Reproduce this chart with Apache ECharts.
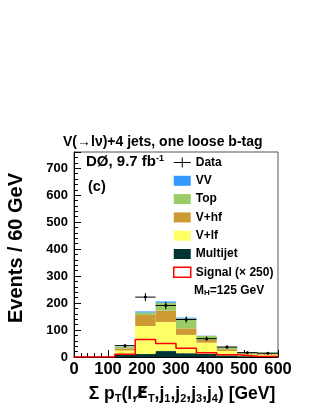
<!DOCTYPE html>
<html><head><meta charset="utf-8">
<script src="https://cdn.jsdelivr.net/npm/echarts@6/dist/echarts.min.js"></script>
<style>html,body{margin:0;padding:0;background:#fff}#c{width:316px;height:409px}</style>
</head><body><div id="c"></div>
<script>
const binEdges = [0, 60, 120, 180, 240, 300, 360, 420, 480, 540, 600];
const multijet = [0, 0, 8, 11, 22, 14, 12, 6, 3, 3];
const vlf      = [0, 0, 16, 104, 108, 68, 41, 16, 7, 6];
const vhf      = [0, 0, 8, 41, 42, 24, 10, 7, 3, 3];
const topq     = [0, 0, 5, 9, 29, 37, 15, 7, 4, 4];
const vv       = [0, 0, 1, 4, 5, 3, 1, 0.5, 0.3, 0.3];
const dataCounts = [0, 0, 42, 222, 191, 139, 68, 37, 16, 14];
const dataErrors = [0, 0, 6.5, 15, 14, 12, 8, 6, 4, 3.7];
const signal   = [0, 0, 10, 65, 50, 32, 16, 8, 3, 2];
const xTickLabels = [0, 100, 200, 300, 400, 500, 600];
const yTickLabels = [0, 100, 200, 300, 400, 500, 600, 700];

const FONT = "'Liberation Sans', Arial, Helvetica, sans-serif";

const layers = [
  { name: 'Multijet', vals: multijet, color: '#003333' },
  { name: 'V+lf', vals: vlf, color: '#ffff66' },
  { name: 'V+hf', vals: vhf, color: '#cc9933' },
  { name: 'Top', vals: topq, color: '#99cc66' },
  { name: 'VV', vals: vv, color: '#3399ff' }
];
let base = binEdges.slice(0, -1).map(() => 0);
layers.forEach(l => {
  l.items = l.vals.map((v, i) => [binEdges[i], binEdges[i + 1], base[i], base[i] + v]);
  base = base.map((b, i) => b + l.vals[i]);
});

const stackSeries = layers.map(l => ({
  name: l.name,
  type: 'custom',
  itemStyle: { color: l.color },
  encode: { x: [0, 1], y: [2, 3] },
  data: l.items,
  renderItem: (params, api) => {
    const a = api.coord([api.value(0), api.value(3)]);
    const b = api.coord([api.value(1), api.value(2)]);
    return { type: 'rect', shape: { x: a[0], y: a[1], width: b[0] - a[0], height: b[1] - a[1] },
             style: { fill: l.color } };
  }
}));

const sigPts = signal.map((s, i) => [binEdges[i], s]);
sigPts.push([binEdges[binEdges.length - 1], signal[signal.length - 1]]);

const dataItems = [];
dataCounts.forEach((n, i) => {
  if (n > 0) dataItems.push([(binEdges[i] + binEdges[i + 1]) / 2, n, (binEdges[i + 1] - binEdges[i]) / 2, dataErrors[i]]);
});

const option = {
  animation: false,
  backgroundColor: '#fff',
  title: {
    text: 'V(→lν)+4 jets, one loose b-tag',
    left: 63, top: 135, padding: 0,
    textStyle: { fontFamily: FONT, fontSize: 14, fontWeight: 'bold', color: '#000' }
  },
  grid: { left: 74, right: 38, top: 152, bottom: 52, outerBoundsMode: 'none', show: true, borderColor: '#555', borderWidth: 1, backgroundColor: 'transparent' },
  legend: {
    orient: 'vertical', left: 173, top: 156.5, padding: 0, itemWidth: 17, itemHeight: 10, itemGap: 6.3,
    selectedMode: false,
    textStyle: { fontFamily: FONT, fontSize: 12, fontWeight: 'bold', color: '#000', lineHeight: 12 },
    data: [
      { name: 'Data', icon: 'path://M0,5L17,5M8.5,0L8.5,10', itemStyle: { color: 'transparent', borderColor: '#000', borderWidth: 1 } },
      { name: 'VV', icon: 'rect' },
      { name: 'Top', icon: 'rect' },
      { name: 'V+hf', icon: 'rect' },
      { name: 'V+lf', icon: 'rect' },
      { name: 'Multijet', icon: 'rect' },
      { name: 'Signal (× 250)', icon: 'rect', itemStyle: { color: '#fff', borderColor: '#ff0000', borderWidth: 1.5 } }
    ]
  },
  graphic: [
    { type: 'text', left: 86, top: 154, style: { text: 'DØ, 9.7 fb{sup|-1}', fontFamily: FONT, fontSize: 15, fontWeight: 'bold', fill: '#000',
      rich: { sup: { fontFamily: FONT, fontSize: 9, fontWeight: 'bold', verticalAlign: 'top', lineHeight: 10, fill: '#000' } } } },
    { type: 'text', left: 88, top: 179, style: { text: '(c)', fontFamily: FONT, fontSize: 14.5, fontWeight: 'bold', fill: '#000' } },
    { type: 'text', left: 194, top: 285, style: { text: 'M{sub|H}=125 GeV', fontFamily: FONT, fontSize: 12, fontWeight: 'bold', fill: '#000',
      rich: { sub: { fontFamily: FONT, fontSize: 8, fontWeight: 'bold', verticalAlign: 'bottom', lineHeight: 8, fill: '#000' } } } }
  ],
  xAxis: {
    type: 'value', min: 0, max: 600, interval: 100,
    name: 'Σ p{sub|T}(l,{es|E̸}{sub|T},j{sub|1},j{sub|2},j{sub|3},j{sub|4}) [GeV]',
    nameLocation: 'middle', nameGap: 24,
    nameTextStyle: { fontFamily: FONT, fontSize: 17.5, fontWeight: 'bold', color: '#000', lineHeight: 22, padding: [0, 0, 0, 12],
      rich: {
        sub: { fontFamily: FONT, fontSize: 11, fontWeight: 'bold', verticalAlign: 'bottom', lineHeight: 13, color: '#000' },
        es: { fontFamily: "'DejaVu Sans'", fontSize: 16, fontWeight: 'bold', lineHeight: 22, color: '#000' }
      } },
    axisLine: { lineStyle: { color: '#000', width: 1 } },
    axisTick: { inside: true, length: 7, lineStyle: { color: '#000' } },
    minorTick: { show: true, splitNumber: 5, length: 4, lineStyle: { color: '#000' } },
    splitLine: { show: false },
    axisLabel: { margin: 4, fontFamily: FONT, fontSize: 16.5, fontWeight: 'bold', color: '#000',
      formatter: v => xTickLabels.includes(v) ? String(v) : '' }
  },
  yAxis: {
    type: 'value', min: 0, max: 760, interval: 100,
    name: 'Events / 60 GeV',
    nameLocation: 'middle', nameGap: 48,
    nameTextStyle: { fontFamily: FONT, fontSize: 20, fontWeight: 'bold', color: '#000', padding: [0, 0, 0, 13] },
    axisLine: { show: true, lineStyle: { color: '#000', width: 1 } },
    axisTick: { inside: true, length: 7, lineStyle: { color: '#000' } },
    minorTick: { show: true, splitNumber: 5, length: 4, lineStyle: { color: '#000' } },
    splitLine: { show: false },
    axisLabel: { margin: 6, fontFamily: FONT, fontSize: 13, fontWeight: 'bold', color: '#000', showMaxLabel: false,
      formatter: v => yTickLabels.includes(v) ? String(v) : '' }
  },
  series: [
    ...stackSeries,
    {
      name: 'Signal (× 250)', type: 'line', step: 'end', data: sigPts, symbol: 'none',
      lineStyle: { color: '#ff0000', width: 1.5 }, itemStyle: { color: '#ff0000' }
    },
    {
      name: 'Data', type: 'custom', itemStyle: { color: '#000' },
      encode: { x: 0, y: 1 }, data: dataItems,
      renderItem: (params, api) => {
        const x = api.value(0), y = api.value(1), xe = api.value(2), ye = api.value(3);
        const l = api.coord([x - xe, y]), r = api.coord([x + xe, y]);
        const t = api.coord([x, y + ye]), b = api.coord([x, y - ye]);
        const c = api.coord([x, y]);
        return { type: 'group', children: [
          { type: 'line', shape: { x1: l[0], y1: l[1], x2: r[0], y2: r[1] }, style: { stroke: '#000', lineWidth: 1 } },
          { type: 'line', shape: { x1: t[0], y1: t[1], x2: b[0], y2: b[1] }, style: { stroke: '#000', lineWidth: 1 } },
          { type: 'circle', shape: { cx: c[0], cy: c[1], r: 1.5 }, style: { fill: '#000' } }
        ] };
      }
    }
  ]
};
const chart = echarts.init(document.getElementById('c'), null, { renderer: 'canvas' });
chart.setOption(option);
</script></body></html>
